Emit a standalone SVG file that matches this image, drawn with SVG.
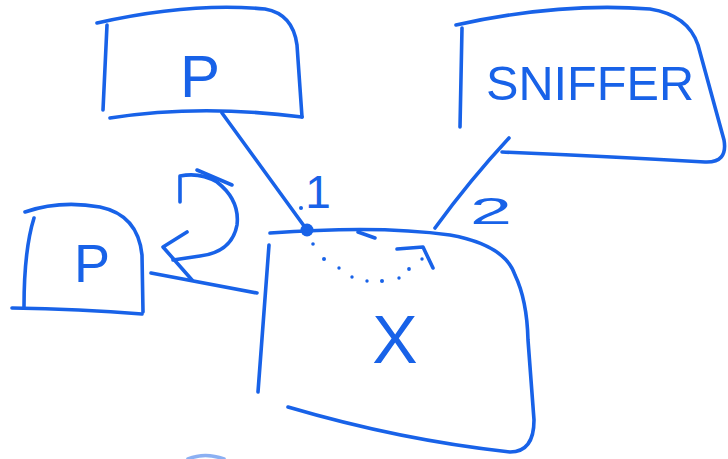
<svg xmlns="http://www.w3.org/2000/svg" width="728" height="459" viewBox="0 0 728 459">
<style>
.s{fill:none;stroke:#1862e8;stroke-width:3.6;stroke-linecap:round;stroke-linejoin:round}
.t{fill:#1862e8;font-family:"Liberation Sans",Arial,sans-serif}
.d{fill:#1862e8}
</style>
<rect width="728" height="459" fill="#ffffff"/>
<g id="connectors">
<path class="s" d="M222,113 L307,230"/>
<path class="s" d="M509,138 Q470,180 435,228"/>
<path class="s" d="M151,273 L257,293"/>
<g id="dotted-arc">
<circle class="d" cx="313" cy="244" r="1.8"/>
<circle class="d" cx="324" cy="259" r="2"/>
<circle class="d" cx="339" cy="268" r="1.7"/>
<circle class="d" cx="352" cy="277" r="1.7"/>
<circle class="d" cx="367" cy="281" r="1.7"/>
<circle class="d" cx="382" cy="281" r="2"/>
<circle class="d" cx="399" cy="278" r="1.7"/>
<circle class="d" cx="409" cy="269" r="1.9"/>
<circle class="d" cx="422" cy="259" r="1.7"/>
<path class="s" d="M397,249 L423,247 L433,268"/>
</g>
<g id="loop-arrow">
<path class="s" d="M180,202 L180,176 Q200,172 217,182 Q240,200 237,225 Q232,252 200,256 L173,260"/>
<path class="s" d="M197,170 L232,185"/>
<path class="s" d="M187,232 L163,247 L192,280"/>
</g>
<circle class="d" cx="307" cy="230" r="6.5"/>
<circle class="d" cx="301" cy="208" r="2"/>
<text class="t" x="318" y="208" font-size="46" text-anchor="middle">1</text>
<text class="t" x="470" y="224" font-size="36" textLength="42" lengthAdjust="spacingAndGlyphs">2</text>
</g>
<g id="node-p-top">
<path class="s" d="M97,23 Q190,2 265,9 Q293,14 297,45 L302,117"/>
<path class="s" d="M107,25 L103,110"/>
<path class="s" d="M110,118 Q200,104 302,117"/>
<text class="t" x="200" y="97" font-size="60" text-anchor="middle">P</text>
</g>
<g id="node-sniffer">
<path class="s" d="M456,25 Q560,2 650,9 Q688,15 698,45 L724,140 Q728,163 705,162 Q600,156 502,152"/>
<path class="s" d="M462,28 L460,127"/>
<text class="t" x="486" y="100" font-size="48" textLength="208" lengthAdjust="spacingAndGlyphs">SNIFFER</text>
</g>
<g id="node-p-left">
<path class="s" d="M25,212 Q60,200 100,207 Q138,215 142,255 L143,312"/>
<path class="s" d="M34,218 Q24,250 24,307"/>
<path class="s" d="M12,308 Q80,309 142,314"/>
<text class="t" x="92" y="282" font-size="54" text-anchor="middle">P</text>
</g>
<g id="node-x">
<path class="s" d="M270,233 Q380,225 450,235 Q505,245 515,275 Q527,300 528,340 L534,420 Q534,452 510,452 Q400,440 288,407"/>
<path class="s" d="M269,245 L258,392"/>
<path class="s" d="M358,232 L375,238"/>
<text class="t" x="395" y="363" font-size="68" text-anchor="middle">X</text>
</g>
<path class="s" d="M188,459 Q205,452 224,459" opacity="0.5"/>
</svg>
